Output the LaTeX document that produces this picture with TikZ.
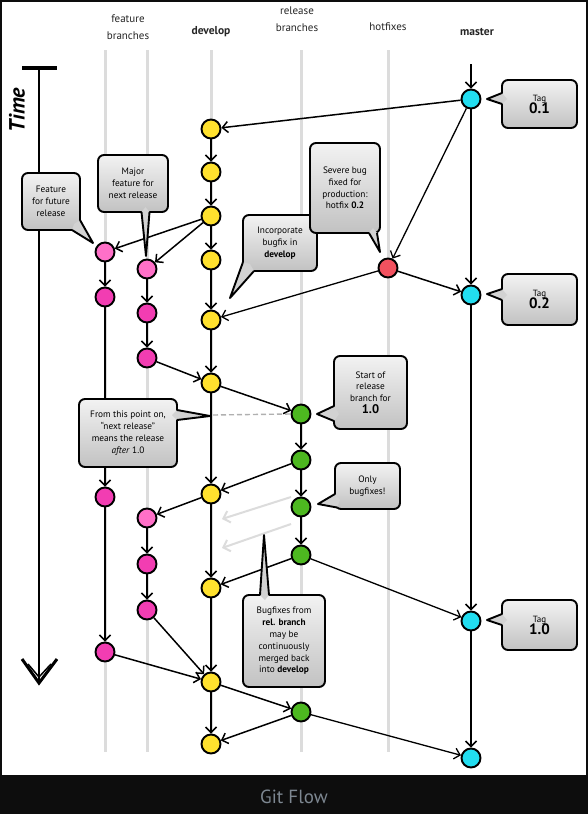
\documentclass[tikz,border=0pt]{standalone}
\usepackage{fontspec}
\setmainfont{PT Sans}
\usetikzlibrary{arrows.meta}
\definecolor{cyell}{HTML}{FFE12E}
\definecolor{cgreen}{HTML}{4DB820}
\definecolor{ccyan}{HTML}{22DDF0}
\definecolor{cred}{HTML}{F2515F}
\definecolor{cpinkl}{HTML}{FF70C8}
\definecolor{cpink}{HTML}{F23DB2}
\definecolor{lane}{HTML}{DCDCDC}
\definecolor{band}{HTML}{0D0D0D}
\definecolor{captxt}{HTML}{7D8791}
\definecolor{tailgray}{HTML}{D2D2D2}
\tikzset{
  commit/.style={circle, draw=black, line width=1.9pt, minimum size=19pt, inner sep=0pt},
  dev/.style={commit, fill=cyell},
  rel/.style={commit, fill=cgreen},
  mas/.style={commit, fill=ccyan},
  hot/.style={commit, fill=cred},
  feal/.style={commit, fill=cpinkl},
  fea/.style={commit, fill=cpink},
  flow/.style={line width=1.5pt, -{Straight Barb[length=5.5pt,width=11pt]}},
  faint/.style={line width=2pt, draw=lane, -{Straight Barb[length=6pt,width=12pt]}},
  lanel/.style={draw=lane, line width=3pt},
  callout/.style={draw=black, line width=1.9pt, rounded corners=6pt, top color=white!95!black, bottom color=black!24, align=center, font=\fontsize{9.3}{11.8}\selectfont, inner sep=0pt},
  tailf/.style={fill=tailgray},
  taill/.style={line width=1.9pt, line join=round},
  head/.style={font=\fontsize{11}{17}\selectfont, align=center, text=black!85}
}
\begin{document}
\begin{tikzpicture}[x=1pt,y=-1pt]
\useasboundingbox (0,0) rectangle (588,814);
\fill[band] (0,0) rectangle (588,814);
\fill[white] (2,2) rectangle (586,775);
\node[text=captxt, font=\fontsize{19}{22}\selectfont] (cap) at (294,797) {Git Flow};

% headers
\node[head] (hfeat) at (128,27) {feature\\branches};
\node[head, font=\fontsize{11.5}{17}\selectfont\bfseries] (hdev) at (211,32) {develop};
\node[head] (hrel) at (297,19) {release\\branches};
\node[head] (hhot) at (388,27) {hotfixes};
\node[head, font=\fontsize{11.5}{17}\selectfont\bfseries] (hmas) at (477,32) {master};

% lanes
\foreach \x in {105,147,211,301,388} \draw[lanel] (\x,50) -- (\x,752);

% time axis
\node[rotate=90, font=\fontsize{22}{24}\selectfont\bfseries\itshape] (time) at (17,110) {Time};
\coordinate (ttop) at (39,68);
\coordinate (tbot) at (39,683);
\draw[line width=2.6pt] (ttop) -- (tbot);
\draw[line width=4.5pt] (22,68) -- (57,68);
\draw[line width=3pt, line join=miter] (22,659) -- (tbot) -- (57,659);
\draw[line width=1.5pt] (28,664) -- (39,677) -- (51,664);

% commits
\node[mas] (M1) at (471,99) {};
\node[mas] (M2) at (471,295) {};
\node[mas] (M3) at (471,621) {};
\node[mas] (M4) at (471,758) {};
\coordinate (mtop) at (471,64);

\node[dev] (D1) at (211,129) {};
\node[dev] (D2) at (211,172) {};
\node[dev] (D3) at (211,216) {};
\node[dev] (D4) at (211,260) {};
\node[dev] (D5) at (211,320) {};
\node[dev] (D6) at (211,383) {};
\node[dev] (D7) at (211,494) {};
\node[dev] (D8) at (211,588) {};
\node[dev] (D9) at (211,682) {};
\node[dev] (D10) at (211,744) {};

\node[feal] (F1a) at (105,252) {};
\node[fea] (F1b) at (105,297) {};
\node[fea] (F1c) at (105,497) {};
\node[fea] (F1d) at (105,652) {};

\node[feal] (F2a) at (147,269) {};
\node[fea] (F2b) at (147,313) {};
\node[fea] (F2c) at (147,358) {};
\node[feal] (F2d) at (147,518) {};
\node[fea] (F2e) at (147,564) {};
\node[fea] (F2f) at (147,610) {};

\node[rel] (R1) at (301,414) {};
\node[rel] (R2) at (301,460) {};
\node[rel] (R3) at (301,507) {};
\node[rel] (R4) at (301,555) {};
\node[rel] (R5) at (301,712) {};

\node[hot] (H1) at (388,268) {};

% faint merges
\coordinate (fa1) at (291,497);
\coordinate (fa1e) at (222,519);
\coordinate (fa2) at (291,524);
\coordinate (fa2e) at (222,548);
\draw[faint] (fa1) -- (fa1e);
\draw[faint] (fa2) -- (fa2e);

% dashed
\coordinate (dashs) at (213,415);
\draw[lane!80!black, line width=1.4pt, dash pattern=on 5pt off 3pt] (dashs) -- (R1.west);

% edges
\draw[flow] (mtop) -- (M1);
\draw[flow] (M1) -- (M2);
\draw[flow] (M2) -- (M3);
\draw[flow] (M3) -- (M4);
\draw[flow] (M1) -- (D1);
\draw[flow, line width=1.3pt] (M1) -- (H1);
\draw[flow] (H1) -- (M2);
\draw[flow, line width=1.3pt] (H1) -- (D5);
\draw[flow] (D1) -- (D2);
\draw[flow] (D2) -- (D3);
\draw[flow] (D3) -- (D4);
\draw[flow] (D4) -- (D5);
\draw[flow] (D5) -- (D6);
\draw[flow] (D6) -- (D7);
\draw[flow] (D7) -- (D8);
\draw[flow] (D8) -- (D9);
\draw[flow] (D9) -- (D10);
\draw[flow] (D3) -- (F1a);
\draw[flow] (D3) -- (F2a);
\draw[flow] (F1a) -- (F1b);
\draw[flow] (F1b) -- (F1c);
\draw[flow] (F1c) -- (F1d);
\draw[flow] (F1d) -- (D9);
\draw[flow] (F2a) -- (F2b);
\draw[flow] (F2b) -- (F2c);
\draw[flow] (F2c) -- (D6);
\draw[flow] (D6) -- (R1);
\draw[flow] (R1) -- (R2);
\draw[flow] (R2) -- (R3);
\draw[flow] (R3) -- (R4);
\draw[flow] (R2) -- (D7);
\draw[flow] (R4) -- (D8);
\draw[flow, line width=1.3pt] (R4) -- (M3);
\draw[flow] (D9) -- (R5);
\draw[flow] (R5) -- (D10);
\draw[flow, line width=1.3pt] (R5) -- (M4);
\draw[flow] (D7) -- (F2d);
\draw[flow] (F2d) -- (F2e);
\draw[flow] (F2e) -- (F2f);
\draw[flow] (F2f) -- (D9);

% callouts
% 1
\node[callout, minimum width=58pt, minimum height=57pt] (c1) at (51,201.5) {Feature\\for future\\release};
\coordinate (t1) at (93,243);
\fill[tailf] (72,230) -- (t1) -- (80,220) -- (74,224) -- cycle;
\draw[taill] (72,230) -- (t1) -- (80,220);
% 2
\node[callout, minimum width=70pt, minimum height=57pt] (c2) at (133,183.5) {Major\\feature for\\next release};
\coordinate (t2) at (146,256);
\fill[tailf] (141.5,212) -- (t2) -- (149.5,212) -- (145.5,207) -- cycle;
\draw[taill] (141.5,212) -- (t2) -- (149.5,212);
% 3
\node[callout, minimum width=74pt, minimum height=56pt] (c3) at (280,243) {Incorporate\\bugfix in\\\textbf{develop}};
\coordinate (t3) at (230,298);
\fill[tailf] (243,262) -- (t3) -- (254,271) -- (250,264) -- cycle;
\draw[taill] (243,262) -- (t3) -- (254,271);
% 4
\node[callout, minimum width=70pt, minimum height=90pt] (c4) at (345,188) {Severe bug\\fixed for\\production:\\hotfix \textbf{0.2}};
\coordinate (t4) at (380,252);
\fill[tailf] (369,233) -- (t4) -- (377,233) -- (373,228) -- cycle;
\draw[taill] (369,233) -- (t4) -- (377,233);
% 5
\node[callout, minimum width=75pt, minimum height=48pt, font=\fontsize{9}{15}\selectfont] (c5) at (539.5,104) {Tag\\[-3pt]{\fontsize{15}{15}\selectfont\bfseries 0.1}};
\coordinate (t5) at (487,99);
\fill[tailf] (502,93) -- (t5) -- (502,104) -- (507,99) -- cycle;
\draw[taill] (502,93) -- (t5) -- (502,104);
% 6
\node[callout, minimum width=75pt, minimum height=51pt, font=\fontsize{9}{15}\selectfont] (c6) at (539.5,299.5) {Tag\\[-3pt]{\fontsize{15}{15}\selectfont\bfseries 0.2}};
\coordinate (t6) at (487,294);
\fill[tailf] (502,289) -- (t6) -- (502,300) -- (507,295) -- cycle;
\draw[taill] (502,289) -- (t6) -- (502,300);
% 7
\node[callout, minimum width=73pt, minimum height=73pt] (c7) at (370.5,392.5) {Start of\\release\\branch for\\{\fontsize{12.5}{13}\selectfont\bfseries 1.0}};
\coordinate (t7) at (317,414);
\fill[tailf] (334,406) -- (t7) -- (334,421) -- (339,414) -- cycle;
\draw[taill] (334,406) -- (t7) -- (334,421);
% 8
\node[callout, minimum width=98pt, minimum height=68pt] (c8) at (128,433) {From this point on,\\“next release”\\means the release\\\textit{after} 1.0};
\coordinate (t8) at (210,416);
\fill[tailf] (177,410) -- (t8) -- (177,420) -- (172,415) -- cycle;
\draw[taill] (177,410) -- (t8) -- (177,420);
% 9
\node[callout, minimum width=65pt, minimum height=46pt] (c9) at (367.5,486) {Only\\bugfixes!};
\coordinate (t9) at (318,504);
\fill[tailf] (335,494) -- (t9) -- (337,507.5) -- (340,500) -- cycle;
\draw[taill] (335,494) -- (t9) -- (337,507.5);
% 10
\node[callout, minimum width=82pt, minimum height=92pt] (c10) at (284,641) {Bugfixes from\\\textbf{rel. branch}\\may be\\continuously\\merged back\\into \textbf{develop}};
\coordinate (t10) at (264,535);
\fill[tailf] (260,595) -- (t10) -- (269,595) -- (265,600) -- cycle;
\draw[taill] (260,595) -- (t10) -- (269,595);
% 11
\node[callout, minimum width=75pt, minimum height=50pt, font=\fontsize{9}{15}\selectfont] (c11) at (539.5,625) {Tag\\[-3pt]{\fontsize{15}{15}\selectfont\bfseries 1.0}};
\coordinate (t11) at (487,620);
\fill[tailf] (502,614) -- (t11) -- (502,625) -- (507,620) -- cycle;
\draw[taill] (502,614) -- (t11) -- (502,625);
\end{tikzpicture}
\end{document}
